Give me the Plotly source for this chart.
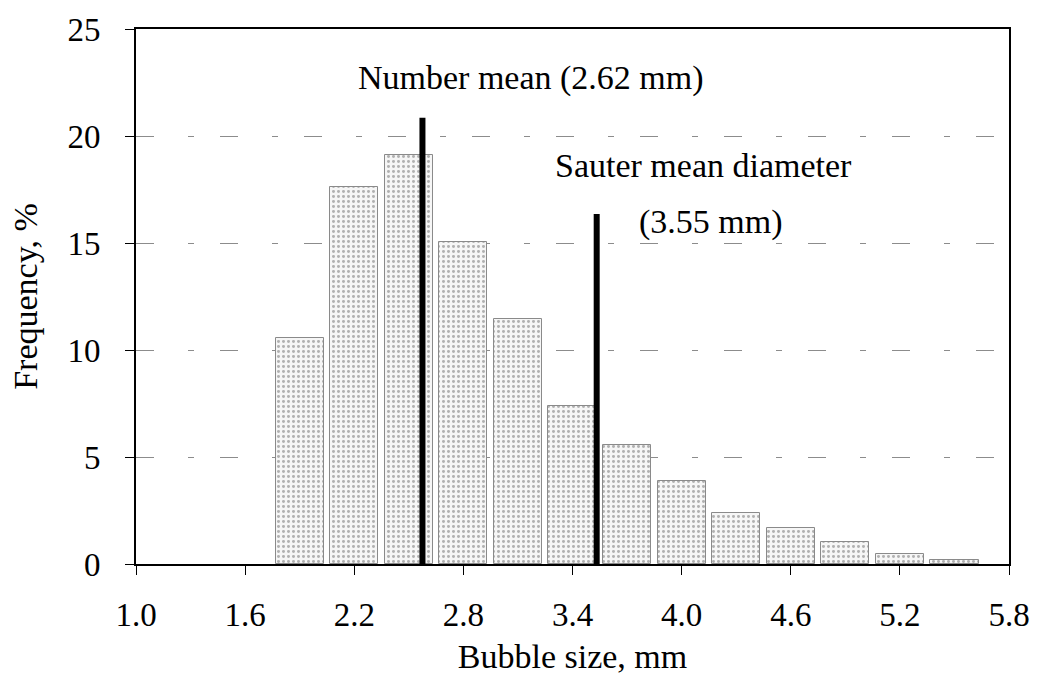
import plotly.graph_objects as go

# Bubble size bin centres (mm) and frequency (%)
bin_centres = [1.9, 2.2, 2.5, 2.8, 3.1, 3.4, 3.7, 4.0, 4.3, 4.6, 4.9, 5.2, 5.5]
frequency = [10.55, 17.6, 19.1, 15.05, 11.45, 7.4, 5.55, 3.9, 2.4, 1.7, 1.05, 0.48, 0.18]

# Mean markers (position drawn on chart, top of marker line)
mean_names = ["Number mean", "Sauter mean diameter"]
mean_x = [2.575, 3.533]
mean_top = [20.85, 16.35]

x_tick_vals = [1.0, 1.6, 2.2, 2.8, 3.4, 4.0, 4.6, 5.2, 5.8]
x_tick_text = ["1.0", "1.6", "2.2", "2.8", "3.4", "4.0", "4.6", "5.2", "5.8"]
y_tick_vals = [0, 5, 10, 15, 20, 25]

FONT = "Liberation Serif, Times New Roman, serif"

fig = go.Figure()

fig.add_trace(go.Bar(
    x=bin_centres,
    y=frequency,
    width=0.265,
    marker=dict(
        color="#f2f2f2",
        line=dict(color="#8a8a8a", width=1),
        pattern=dict(shape=".", fgcolor="#b0b0b0", bgcolor="#f6f6f6",
                     size=5, solidity=0.28, fillmode="replace"),
    ),
    showlegend=False,
    hoverinfo="x+y",
))

for name, mx, top in zip(mean_names, mean_x, mean_top):
    fig.add_trace(go.Scatter(
        x=[mx, mx], y=[0, top], mode="lines",
        line=dict(color="black", width=6),
        name=name, showlegend=False,
    ))

fig.add_annotation(x=3.17, y=22.7, xref="x", yref="y",
                   text="Number mean (2.62 mm)", showarrow=False,
                   font=dict(family=FONT, size=34, color="black"))
fig.add_annotation(x=4.12, y=18.6, xref="x", yref="y",
                   text="Sauter mean diameter", showarrow=False,
                   font=dict(family=FONT, size=34, color="black"))
fig.add_annotation(x=4.16, y=16.0, xref="x", yref="y",
                   text="(3.55 mm)", showarrow=False,
                   font=dict(family=FONT, size=34, color="black"))

fig.update_layout(
    width=1042, height=686,
    margin=dict(l=136, r=33, t=20, b=122),
    paper_bgcolor="white", plot_bgcolor="white",
    font=dict(family=FONT, size=33, color="black"),
    bargap=0,
)

fig.update_xaxes(
    range=[1.0, 5.8],
    tickmode="array", tickvals=x_tick_vals, ticktext=x_tick_text,
    ticks="outside", ticklen=9, tickwidth=1, tickcolor="black",
    ticklabelstandoff=11,
    showline=True, linecolor="black", linewidth=2, mirror=True,
    showgrid=False, zeroline=False,
    tickfont=dict(family=FONT, size=33, color="black"),
    title=dict(text="Bubble size, mm", font=dict(family=FONT, size=34, color="black"),
               standoff=13),
)

fig.update_yaxes(
    range=[0, 25],
    tickmode="array", tickvals=y_tick_vals,
    ticks="outside", ticklen=9, tickwidth=1, tickcolor="black",
    ticklabelstandoff=18,
    showline=True, linecolor="black", linewidth=2, mirror=True,
    showgrid=True, gridcolor="#8c8c8c", gridwidth=1, griddash="18px,34px,6px,26px",
    zeroline=False,
    tickfont=dict(family=FONT, size=33, color="black"),
    title=dict(text="Frequency, %", font=dict(family=FONT, size=34, color="black"),
               standoff=20),
)

fig.write_html("out.html")
